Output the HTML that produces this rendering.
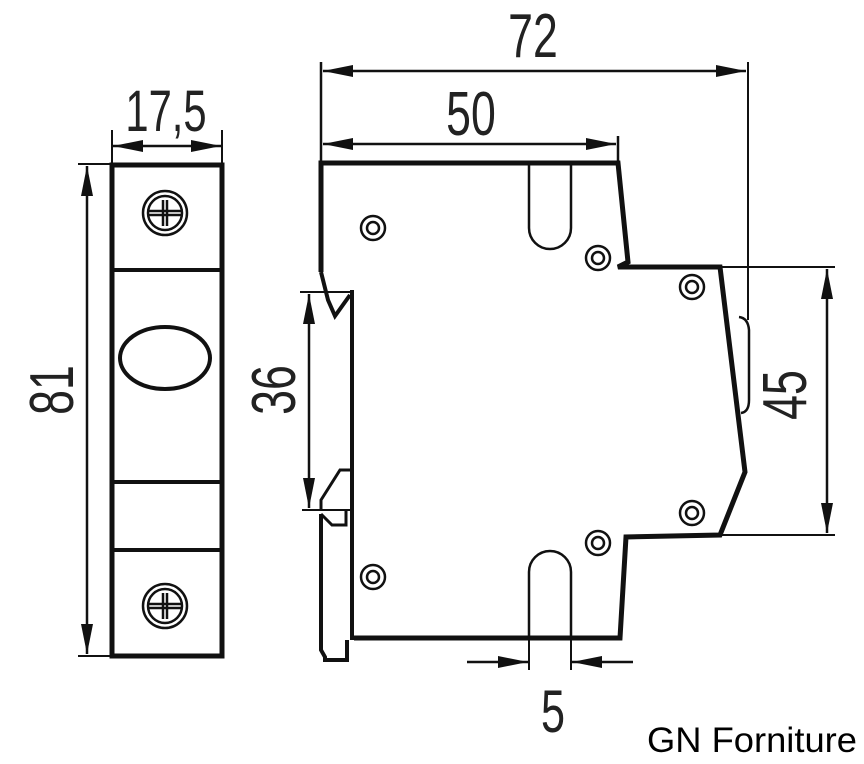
<!DOCTYPE html>
<html><head><meta charset="utf-8"><style>
html,body{margin:0;padding:0;background:#fff;}
svg{display:block;}
.t{font-family:"Liberation Sans",sans-serif;font-weight:normal;fill:#222;}
</style></head><body>
<svg width="864" height="764" viewBox="0 0 864 764" xmlns="http://www.w3.org/2000/svg">
<defs>
<marker id="a" viewBox="0 0 10 10" refX="10" refY="5" markerWidth="30" markerHeight="12" markerUnits="userSpaceOnUse" orient="auto-start-reverse" preserveAspectRatio="none"><path d="M0,0 L10,5 L0,10 z" fill="#111"/></marker>
</defs>
<g stroke="#111" fill="none">
<rect x="112" y="165" width="110" height="491" stroke-width="5"/>
<line x1="112" y1="270" x2="222" y2="270" stroke-width="4"/>
<line x1="112" y1="482" x2="222" y2="482" stroke-width="4"/>
<line x1="112" y1="550" x2="222" y2="550" stroke-width="4"/>
<ellipse cx="165" cy="358" rx="45" ry="31" stroke-width="4"/>
<g stroke-width="2.5">
<circle cx="165" cy="213" r="22"/><circle cx="165" cy="213" r="17"/>
<line x1="148" y1="211" x2="182" y2="211"/><line x1="148" y1="215" x2="182" y2="215"/>
<line x1="163" y1="200" x2="163" y2="226"/><line x1="167" y1="200" x2="167" y2="226"/>
<circle cx="165" cy="606" r="22"/><circle cx="165" cy="606" r="17"/>
<line x1="148" y1="604" x2="182" y2="604"/><line x1="148" y1="608" x2="182" y2="608"/>
<line x1="163" y1="593" x2="163" y2="619"/><line x1="167" y1="593" x2="167" y2="619"/>
</g>
<line x1="112" y1="130" x2="112" y2="165" stroke-width="2"/>
<line x1="222" y1="130" x2="222" y2="165" stroke-width="2"/>
<line x1="113" y1="146" x2="221" y2="146" stroke-width="2.5" marker-start="url(#a)" marker-end="url(#a)"/>
<line x1="78" y1="164" x2="112" y2="164" stroke-width="2"/>
<line x1="78" y1="656" x2="112" y2="656" stroke-width="2"/>
<line x1="87" y1="166" x2="87" y2="654" stroke-width="2.5" marker-start="url(#a)" marker-end="url(#a)"/>

<path d="M321,272 L321,163 L618,163 L628,262 L618,267 L720,267 L745,472 L720,535 L626,537 L620,638 L354,638" stroke-width="5" stroke-linejoin="miter"/>
<path d="M321,272 L328,300 L335,316 L350,295" stroke-width="4"/>
<line x1="352" y1="290" x2="352" y2="640" stroke-width="4"/>
<path d="M350,470 L340,470 L321,500 L321,510" stroke-width="3"/>
<path d="M321,514 L332,525 L346,525 L346,510" stroke-width="3"/>
<path d="M321,514 L321,650 L325,657 L325,660 L347,660 L347,640" stroke-width="4"/>
<path d="M529,163 L529,228 A21,21 0 0 0 571,228 L571,163" stroke-width="2.5"/>
<path d="M529,638 L529,572 A21,21 0 0 1 571,572 L571,638" stroke-width="2.5"/>
<path d="M739,317 Q748,318 749,330 L749,400 Q749,412 741,413" stroke-width="2.5"/>
<g stroke-width="2.5">
<circle cx="373" cy="228" r="12"/><circle cx="373" cy="228" r="6"/>
<circle cx="598" cy="258" r="12"/><circle cx="598" cy="258" r="6"/>
<circle cx="692" cy="287" r="12"/><circle cx="692" cy="287" r="6"/>
<circle cx="692" cy="513" r="12"/><circle cx="692" cy="513" r="6"/>
<circle cx="598" cy="543" r="12"/><circle cx="598" cy="543" r="6"/>
<circle cx="373" cy="577" r="12"/><circle cx="373" cy="577" r="6"/>
</g>
<line x1="321" y1="62" x2="321" y2="163" stroke-width="2.5"/>
<line x1="748" y1="62" x2="748" y2="320" stroke-width="2"/>
<line x1="618" y1="136" x2="618" y2="163" stroke-width="2.5"/>
<line x1="323" y1="71" x2="746" y2="71" stroke-width="2.5" marker-start="url(#a)" marker-end="url(#a)"/>
<line x1="323" y1="144" x2="616" y2="144" stroke-width="2.5" marker-start="url(#a)" marker-end="url(#a)"/>
<line x1="720" y1="267" x2="835" y2="267" stroke-width="2"/>
<line x1="720" y1="535" x2="835" y2="535" stroke-width="2"/>
<line x1="827" y1="269" x2="827" y2="533" stroke-width="2.5" marker-start="url(#a)" marker-end="url(#a)"/>
<line x1="300" y1="292" x2="350" y2="292" stroke-width="2"/>
<line x1="302" y1="510" x2="352" y2="510" stroke-width="2"/>
<line x1="309" y1="294" x2="309" y2="508" stroke-width="2.5" marker-start="url(#a)" marker-end="url(#a)"/>
<line x1="529" y1="638" x2="529" y2="670" stroke-width="2"/>
<line x1="571" y1="638" x2="571" y2="670" stroke-width="2"/>
<line x1="467" y1="662" x2="528" y2="662" stroke-width="2.5" marker-end="url(#a)"/>
<line x1="633" y1="662" x2="572" y2="662" stroke-width="2.5" marker-end="url(#a)"/>
</g>
<g class="t">
<text x="533" y="57" font-size="62" text-anchor="middle" transform="translate(533,0) scale(0.72,1) translate(-533,0)">72</text>
<text x="471" y="135" font-size="62" text-anchor="middle" transform="translate(471,0) scale(0.72,1) translate(-471,0)">50</text>
<text x="166" y="131" font-size="58" text-anchor="middle" transform="translate(166,0) scale(0.72,1) translate(-166,0)">17,5</text>
<text x="553" y="732" font-size="60" text-anchor="middle" transform="translate(553,0) scale(0.72,1) translate(-553,0)">5</text>
<text font-size="62" text-anchor="middle" transform="translate(73,390) rotate(-90) scale(0.72,1)">81</text>
<text font-size="62" text-anchor="middle" transform="translate(295,390) rotate(-90) scale(0.72,1)">36</text>
<text font-size="62" text-anchor="middle" transform="translate(806,395) rotate(-90) scale(0.72,1)">45</text>
<text x="647" y="752" font-size="35" fill="#000" textLength="210" lengthAdjust="spacingAndGlyphs">GN Forniture</text>
</g>
</svg>
</body></html>
